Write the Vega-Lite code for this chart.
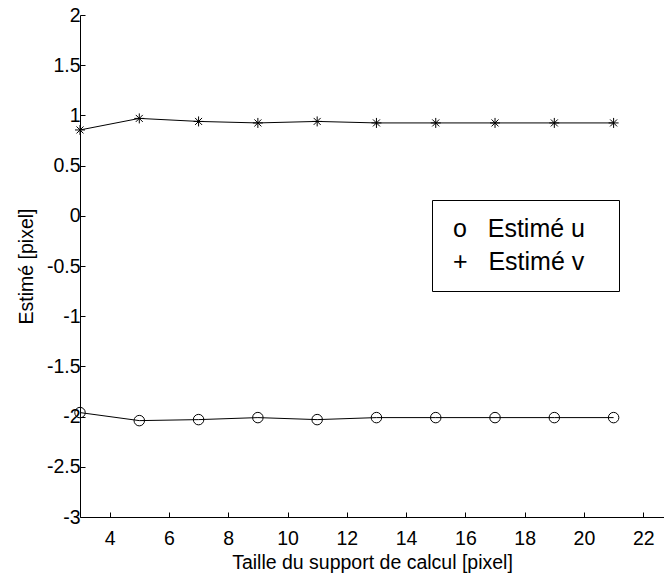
{
  "$schema": "https://vega.github.io/schema/vega-lite/v6.json",
  "autosize": "none",
  "padding": {"left": 80, "top": 15, "right": 0, "bottom": 59},
  "width": 584,
  "height": 502,
  "background": "white",
  "config": {
    "view": {"stroke": null},
    "font": "Liberation Sans",
    "axis": {
      "grid": false,
      "domainColor": "black",
      "tickColor": "black",
      "labelColor": "black",
      "titleColor": "black",
      "labelFont": "Liberation Sans",
      "titleFont": "Liberation Sans",
      "labelFontSize": 19.5,
      "titleFontSize": 19.5,
      "titleFontWeight": "normal",
      "tickSize": -5,
      "domainWidth": 1,
      "tickWidth": 1
    }
  },
  "data": {
    "values": [
      {"taille": 3, "estime": -1.96, "serie": "u"},
      {"taille": 5, "estime": -2.04, "serie": "u"},
      {"taille": 7, "estime": -2.03, "serie": "u"},
      {"taille": 9, "estime": -2.01, "serie": "u"},
      {"taille": 11, "estime": -2.03, "serie": "u"},
      {"taille": 13, "estime": -2.01, "serie": "u"},
      {"taille": 15, "estime": -2.01, "serie": "u"},
      {"taille": 17, "estime": -2.01, "serie": "u"},
      {"taille": 19, "estime": -2.01, "serie": "u"},
      {"taille": 21, "estime": -2.01, "serie": "u"},
      {"taille": 3, "estime": 0.855, "serie": "v"},
      {"taille": 5, "estime": 0.97, "serie": "v"},
      {"taille": 7, "estime": 0.94, "serie": "v"},
      {"taille": 9, "estime": 0.925, "serie": "v"},
      {"taille": 11, "estime": 0.94, "serie": "v"},
      {"taille": 13, "estime": 0.925, "serie": "v"},
      {"taille": 15, "estime": 0.925, "serie": "v"},
      {"taille": 17, "estime": 0.925, "serie": "v"},
      {"taille": 19, "estime": 0.925, "serie": "v"},
      {"taille": 21, "estime": 0.925, "serie": "v"}
    ]
  },
  "encoding": {
    "x": {
      "field": "taille",
      "type": "quantitative",
      "scale": {"domain": [3, 22.7], "nice": false, "zero": false},
      "axis": {
        "title": "Taille du support de calcul [pixel]",
        "values": [4, 6, 8, 10, 12, 14, 16, 18, 20, 22],
        "labelPadding": 17,
        "titlePadding": 6
      }
    },
    "y": {
      "field": "estime",
      "type": "quantitative",
      "scale": {"domain": [-3, 2], "nice": false, "zero": false},
      "axis": {
        "title": "Estimé [pixel]",
        "values": [-3, -2.5, -2, -1.5, -1, -0.5, 0, 0.5, 1, 1.5, 2],
        "labelExpr": "'' + datum.value",
        "labelPadding": 5,
        "titlePadding": 10
      }
    }
  },
  "layer": [
    {
      "mark": {"type": "line", "strokeWidth": 1},
      "encoding": {
        "color": {
          "field": "serie",
          "type": "nominal",
          "scale": {"domain": ["u", "v"], "range": ["black", "black"]},
          "legend": {
            "orient": "none",
            "legendX": 352,
            "legendY": 185,
            "title": null,
            "strokeColor": "black",
            "fillColor": "white",
            "padding": 16,
            "symbolSize": 0,
            "symbolOpacity": 0,
            "labelOffset": -20,
            "labelLimit": 400,
            "labelFontSize": 25,
            "labelFont": "Liberation Sans",
            "labelColor": "black",
            "rowPadding": 7,
            "labelExpr": "datum.value == 'u' ? 'o\u00a0\u00a0\u00a0Estimé u\u2800' : '+\u00a0\u00a0\u00a0Estimé v\u2800'"
          }
        }
      }
    },
    {
      "transform": [{"filter": "datum.serie == 'u'"}],
      "mark": {"type": "point", "shape": "circle", "size": 110, "filled": false, "stroke": "black", "strokeWidth": 1, "opacity": 1}
    },
    {
      "transform": [{"filter": "datum.serie == 'v'"}],
      "mark": {"type": "point", "shape": "M-1,0L1,0M0,-1L0,1M-0.7,-0.7L0.7,0.7M-0.7,0.7L0.7,-0.7", "size": 100, "filled": false, "stroke": "black", "strokeWidth": 1, "opacity": 1}
    }
  ]
}
